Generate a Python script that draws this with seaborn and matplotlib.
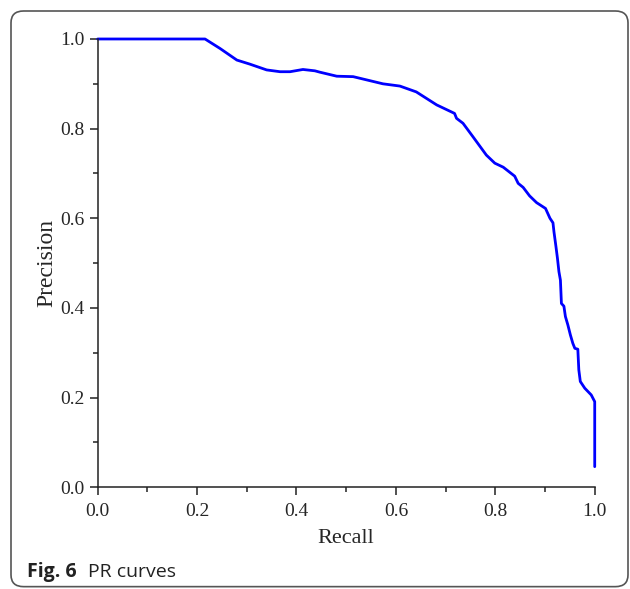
import matplotlib
matplotlib.use("Agg")
import matplotlib.pyplot as plt
import seaborn as sns
import pandas as pd
from matplotlib.patches import FancyBboxPatch
from matplotlib.ticker import MultipleLocator

# PR curve
recall = [0.0, 0.216, 0.246, 0.280, 0.306, 0.340, 0.367, 0.387, 0.413, 0.437,
          0.447, 0.481, 0.514, 0.574, 0.608, 0.641, 0.682, 0.718, 0.722, 0.735,
          0.755, 0.782, 0.799, 0.816, 0.839, 0.846, 0.856, 0.869, 0.883, 0.901,
          0.910, 0.916, 0.918, 0.922, 0.925, 0.928, 0.931, 0.933, 0.938, 0.941,
          0.946, 0.951, 0.956, 0.960, 0.966, 0.968, 0.971, 0.980, 0.993, 1.0, 1.0]
precision = [1.0, 1.0, 0.979, 0.953, 0.944, 0.931, 0.927, 0.927, 0.932, 0.929,
             0.926, 0.917, 0.916, 0.900, 0.895, 0.882, 0.853, 0.834, 0.823, 0.812,
             0.782, 0.741, 0.723, 0.714, 0.694, 0.678, 0.669, 0.650, 0.635, 0.622,
             0.600, 0.590, 0.570, 0.537, 0.511, 0.481, 0.462, 0.410, 0.404, 0.381,
             0.362, 0.340, 0.321, 0.310, 0.308, 0.262, 0.236, 0.221, 0.206, 0.191, 0.046]

ticks = [0.0, 0.2, 0.4, 0.6, 0.8, 1.0]
tick_labels = ["0.0", "0.2", "0.4", "0.6", "0.8", "1.0"]

df = pd.DataFrame({"Recall": recall, "Precision": precision})

sns.set_style("ticks")
plt.rcParams["font.family"] = ["Liberation Serif", "DejaVu Serif"]

fig = plt.figure(figsize=(6.3, 5.89), dpi=100)
ax = fig.add_axes([0.155, 0.1727, 0.789, 0.7611])

sns.lineplot(data=df, x="Recall", y="Precision", sort=False, estimator=None,
             color="#0000FF", linewidth=2.0, clip_on=False, ax=ax)

ax.set_xlim(0, 1.0)
ax.set_ylim(0, 1.0)
ax.set_xticks(ticks)
ax.set_xticklabels(tick_labels)
ax.set_yticks(ticks)
ax.set_yticklabels(tick_labels)
ax.xaxis.set_minor_locator(MultipleLocator(0.1))
ax.yaxis.set_minor_locator(MultipleLocator(0.1))
ax.tick_params(which="major", length=6, width=1.1, labelsize=14, color="#222222")
ax.tick_params(which="minor", length=3.5, width=1.1, color="#222222")
ax.tick_params(axis="x", which="major", pad=5.5)
sns.despine(ax=ax)
for s in ["left", "bottom"]:
    ax.spines[s].set_linewidth(1.1)
    ax.spines[s].set_color("#222222")

ax.set_xlabel("Recall", fontsize=16, labelpad=6)
ax.set_ylabel("Precision", fontsize=17, labelpad=2)

# rounded frame and caption, like the journal layout
frame = FancyBboxPatch((11 / 630, 0.004), 617 / 630, 1 - 11 / 589 - 0.004,
                       boxstyle="round,pad=0,rounding_size=0.02",
                       transform=fig.transFigure, fill=False,
                       edgecolor="#555555", linewidth=1.2)
fig.patches.append(frame)
fig.text(27 / 630, 1 - 577 / 589, "Fig. 6", fontsize=14, fontweight="bold",
         family=["Open Sans", "DejaVu Sans"], color="#222222")
fig.text(88 / 630, 1 - 577 / 589, "PR curves", fontsize=14,
         family=["Open Sans", "DejaVu Sans"], color="#222222")

fig.savefig("out.png", dpi=100)
